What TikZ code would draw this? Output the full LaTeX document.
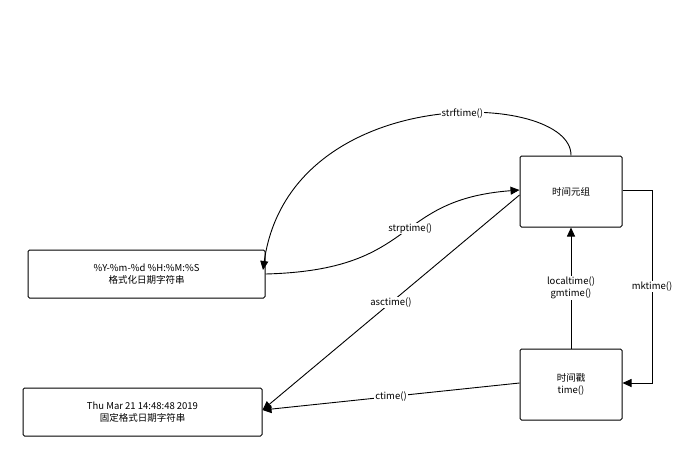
\documentclass[tikz,border=0pt]{standalone}
\usepackage{fontspec}
\setmainfont{Noto Sans CJK SC}
\usetikzlibrary{arrows.meta}
\begin{document}
\begin{tikzpicture}[x=1pt,y=-1pt,font=\fontsize{9.5}{11.5}\selectfont,
  box/.style={draw,line width=1pt,rounded corners=1.5pt,align=center,inner sep=0pt},
  conn/.style={line width=0.9pt,-{Triangle[length=9pt,width=8pt]}},
  lbl/.style={fill=white,inner sep=1pt}]
\useasboundingbox (0,0) rectangle (695,461);
\node[box,minimum width=102pt,minimum height=71pt] (tuple) at (571,191.5) {时间元组};
\node[box,minimum width=237pt,minimum height=48pt] (fmt) at (146.5,274) {\%Y-\%m-\%d \%H:\%M:\%S\\格式化日期字符串};
\node[box,minimum width=239pt,minimum height=48pt] (fixed) at (142.5,412) {Thu Mar 21 14:48:48 2019\\固定格式日期字符串};
\node[box,minimum width=102pt,minimum height=71pt] (ts) at (571,384.5) {时间戳\\time()};
\draw[conn] (tuple.north) .. controls (572,90) and (290,80) .. node[lbl,pos=0.42]{strftime()} (263,270);
\draw[conn] (fmt.east) .. controls (420,270) and (390,200) .. node[lbl,pos=0.55]{strptime()} (tuple.west |- 0,190);
\draw[conn] (tuple.west |- 0,195) -- node[lbl,pos=0.5]{asctime()} (fixed.east |- 0,410);
\draw[conn] (ts.north) -- node[lbl,align=center]{localtime()\\gmtime()} (tuple.south);
\coordinate (m1) at (652,190);
\coordinate (m2) at (652,383);
\draw[conn] (tuple.east |- 0,190) -- (m1) -- node[lbl]{mktime()} (m2) -- (ts.east |- 0,383);
\draw[conn] (ts.west |- 0,383) -- node[lbl,pos=0.5]{ctime()} (fixed.east |- 0,410);
\end{tikzpicture}
\end{document}
